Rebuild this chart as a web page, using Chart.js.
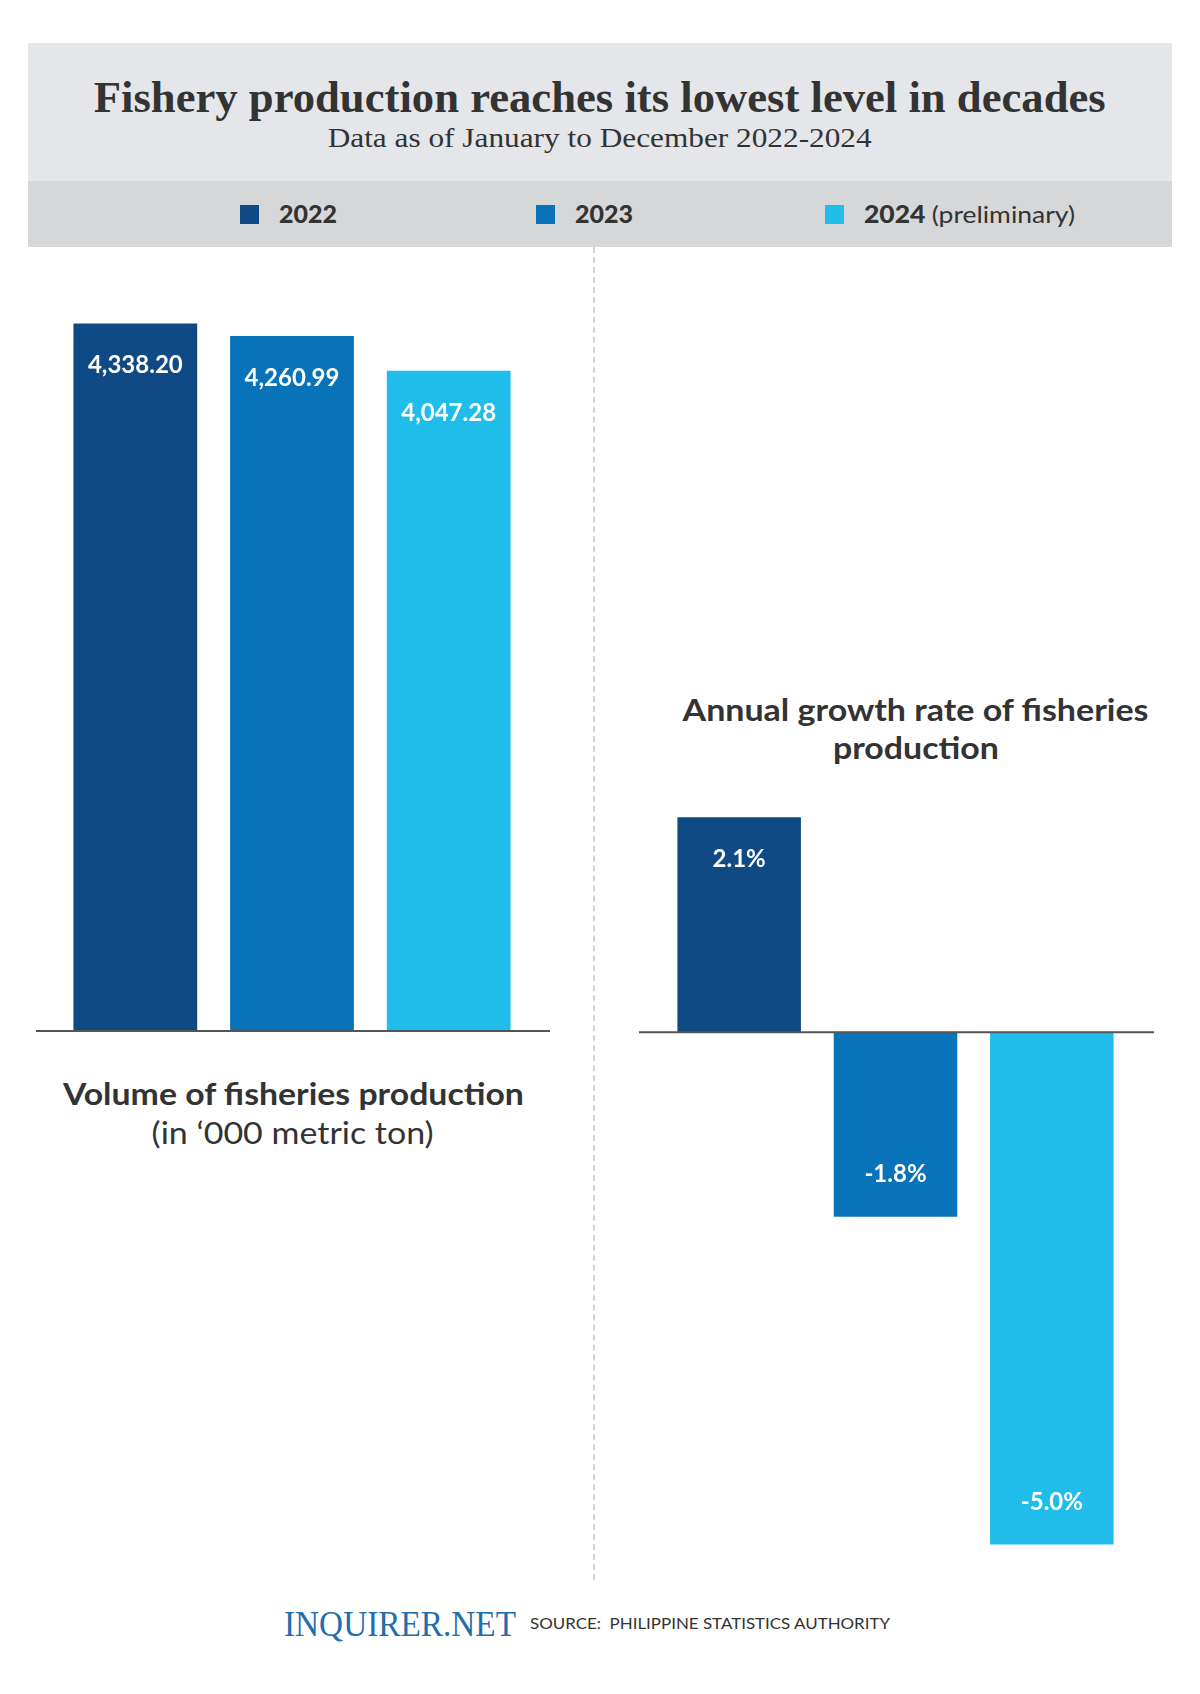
<!DOCTYPE html>
<html>
<head>
<meta charset="utf-8">
<script src="https://cdn.jsdelivr.net/npm/chart.js@4.4.1/dist/chart.umd.min.js"></script>
<style>
  body { margin: 0; width: 1200px; height: 1694px; background: #fff; position: relative; overflow: hidden; font-family: Lato, "Noto Sans", sans-serif; color: #333; }
  .abs { position: absolute; }
  #header { left: 28px; top: 43px; width: 1144px; height: 138px; background: #e4e6e9; }
  #legendBand { left: 28px; top: 181px; width: 1144px; height: 66px; background: #d5d7d9; }
  .fit { white-space: nowrap; text-align: center; }
  .fit.left { text-align: left; }
  #title { left: 0; width: 1200px; top: 72px; font-family: "Liberation Serif", "DejaVu Serif", serif; font-weight: bold; font-size: 45px; line-height: 50px; color: #333; }
  #subtitle { left: 0; width: 1200px; top: 122px; font-family: "Liberation Serif", "DejaVu Serif", serif; font-size: 27px; line-height: 32px; color: #333; }
  .lg { top: 200px; height: 28px; line-height: 28px; font-size: 24px; font-weight: bold; color: #333; white-space: nowrap; }
  .lg i { position: absolute; left: 0; top: 5px; width: 19px; height: 19px; }
  .lg b { position: absolute; top: 0; }
  .lg span { font-weight: normal; }
  #divider { left: 593px; top: 247px; width: 0; height: 1333px; border-left: 2px dashed #d3d3d3; }
  #leftTitle { left: 36px; width: 514px; top: 1075px; font-size: 31px; font-weight: bold; line-height: 36px; }
  #leftUnit { left: 36px; width: 514px; top: 1114px; font-size: 30px; line-height: 36px; }
  .rt { left: 660px; width: 512px; font-size: 31px; font-weight: bold; line-height: 38px; }
  #brand { left: 284px; top: 1604px; font-family: "Liberation Serif", serif; font-size: 36px; line-height: 40px; color: #1f6eae; }
  #source { left: 530px; top: 1613px; font-size: 16px; line-height: 20px; color: #333; }
  canvas { position: absolute; }
</style>
</head>
<body>
<div id="header" class="abs"></div>
<div id="legendBand" class="abs"></div>
<div id="title" class="abs fit" data-w="1012">Fishery production reaches its lowest level in decades</div>
<div id="subtitle" class="abs fit" data-w="544">Data as of January to December 2022-2024</div>

<div class="abs lg" style="left:240px"><i style="background:#0f4a85"></i><b class="fit left" style="left:39px" data-w="58">2022</b></div>
<div class="abs lg" style="left:536px"><i style="background:#0873b9"></i><b class="fit left" style="left:39px" data-w="58">2023</b></div>
<div class="abs lg" style="left:825px"><i style="background:#21bdea"></i><b class="fit left" style="left:39px" data-w="211">2024 <span>(preliminary)</span></b></div>

<div id="divider" class="abs"></div>

<div style="position:absolute;left:36px;top:297px;width:514px;height:738px;">
  <canvas id="volumeChart"></canvas>
</div>
<div style="position:absolute;left:639px;top:807px;width:515px;height:758px;">
  <canvas id="growthChart"></canvas>
</div>

<div id="leftTitle" class="abs fit" data-w="461">Volume of fisheries production</div>
<div id="leftUnit" class="abs fit" data-w="282">(in ‘000 metric ton)</div>
<div class="abs rt fit" style="top:690px" data-w="466">Annual growth rate of fisheries</div>
<div class="abs rt fit" style="top:728px" data-w="166">production</div>

<div id="brand" class="abs fit left" data-w="232">INQUIRER.NET</div>
<div id="source" class="abs fit left" data-w="360">SOURCE:&nbsp; PHILIPPINE STATISTICS AUTHORITY</div>

<script>
// Data
const years = ['2022', '2023', '2024'];
const volume = [4338.20, 4260.99, 4047.28];
const volumeLabels = ['4,338.20', '4,260.99', '4,047.28'];
const growth = [2.1, -1.8, -5.0];
const growthLabels = ['2.1%', '-1.8%', '-5.0%'];
const barColors = ['#0f4a85', '#0873b9', '#21bdea'];

// squeeze / stretch text to the width it has in the graphic
document.querySelectorAll('.fit').forEach(el => {
  const target = +el.dataset.w;
  const span = document.createElement('span');
  span.style.display = 'inline-block';
  span.style.fontWeight = 'inherit';
  while (el.firstChild) span.appendChild(el.firstChild);
  el.appendChild(span);
  const w = span.getBoundingClientRect().width;
  span.style.transformOrigin = el.classList.contains('left') ? 'left center' : 'center center';
  span.style.transform = `scaleX(${target / w})`;
});

// zero line + value labels inside bars
const barExtras = {
  id: 'barExtras',
  afterDatasetsDraw(chart, args, opts) {
    const ctx = chart.ctx;
    const y0 = chart.scales.y.getPixelForValue(0);
    ctx.save();
    ctx.strokeStyle = '#555';
    ctx.lineWidth = 2;
    ctx.beginPath();
    ctx.moveTo(0, y0);
    ctx.lineTo(chart.width, y0);
    ctx.stroke();

    ctx.fillStyle = '#fff';
    ctx.font = 'bold 24px Lato, "Noto Sans", sans-serif';
    ctx.textAlign = 'center';
    ctx.textBaseline = 'middle';
    chart.getDatasetMeta(0).data.forEach((bar, i) => {
      const v = chart.data.datasets[0].data[i];
      const y = v >= 0 ? bar.y + 42 : bar.y - 42;
      ctx.fillText(opts.labels[i], bar.x, y);
    });
    ctx.restore();
  }
};

function makeChart(id, values, labels, min, max, pad) {
  return new Chart(document.getElementById(id), {
    type: 'bar',
    data: {
      labels: years,
      datasets: [{
        data: values,
        backgroundColor: barColors,
        borderWidth: 0,
        barPercentage: 0.79,
        categoryPercentage: 1
      }]
    },
    options: {
      responsive: true,
      maintainAspectRatio: false,
      animation: false,
      layout: { padding: pad },
      plugins: {
        legend: { display: false },
        tooltip: { enabled: false },
        barExtras: { labels: labels }
      },
      scales: {
        x: { display: false },
        y: { display: false, min: min, max: max }
      }
    },
    plugins: [barExtras]
  });
}

makeChart('volumeChart', volume, volumeLabels, 0, 4500, { left: 21, right: 23, top: 0, bottom: 4 });
makeChart('growthChart', growth, growthLabels, -5.2, 2.2, { left: 22, right: 24, top: 0, bottom: 0 });
</script>
</body>
</html>
